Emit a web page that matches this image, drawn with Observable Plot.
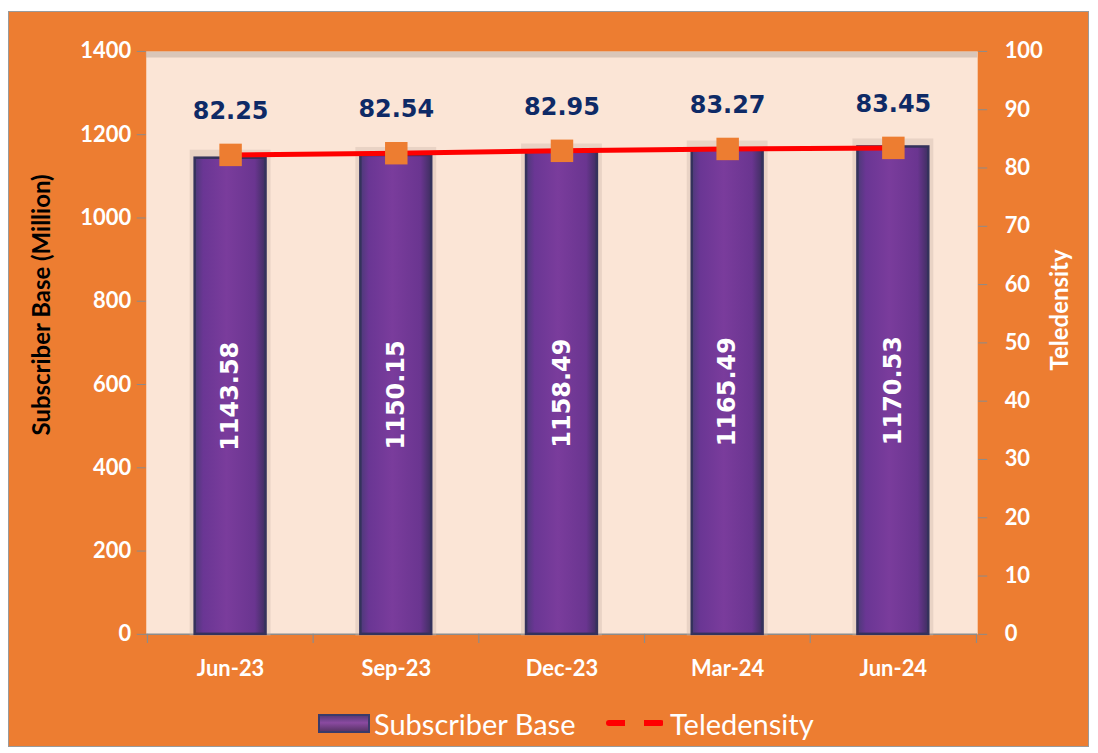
<!DOCTYPE html>
<html>
<head>
<meta charset="utf-8">
<script src="https://cdn.jsdelivr.net/npm/d3@7"></script>
<script src="https://cdn.jsdelivr.net/npm/@observablehq/plot@0.6"></script>
<style>
  body { margin: 0; background: #fff; width: 1098px; height: 753px; overflow: hidden; }
  #card { position: absolute; left: 8px; top: 11px; width: 1081px; height: 736px; background: #ED7D31; border: 1px solid #9a9a9a; box-sizing: border-box; }
  #chart { position: absolute; left: 0; top: 0; }
  #legend { position: absolute; left: 0; top: 693px; width: 100%; font-family: Lato, "Open Sans", sans-serif; font-size: 29px; color: #fff; }
  .item { position: absolute; top: 0; display: flex; align-items: center; height: 36px; }
  .sw { width: 52px; height: 19px; background: linear-gradient(#5a3a7a, #8a4aa0 45%, #5a3468); border: 2px solid #3a3a6a; box-sizing: border-box; margin-right: 4px; }
  .ln { width: 58px; height: 6px; margin-right: 6px; background: repeating-linear-gradient(90deg, #ff0000 0 19px, transparent 19px 38px); border-radius: 3px; }
</style>
</head>
<body>
<div id="card">
  <div id="chart"></div>
  <div id="legend">
    <div class="item" style="left:309px"><div class="sw"></div><span>Subscriber Base</span></div>
    <div class="item" style="left:597px"><div class="ln"></div><span>Teledensity</span></div>
  </div>
</div>
<script>
const categories = ["Jun-23", "Sep-23", "Dec-23", "Mar-24", "Jun-24"];
const subscriberBase = [1143.58, 1150.15, 1158.49, 1165.49, 1170.53];
const teledensity = [82.25, 82.54, 82.95, 83.27, 83.45];
const leftTicks = [0, 200, 400, 600, 800, 1000, 1200, 1400];
const rightTicks = [0, 10, 20, 30, 40, 50, 60, 70, 80, 90, 100];

const ratio = 1400 / 100; // right axis max 100 maps to left axis max 1400
const data = categories.map((c, i) => ({cat: c, sub: subscriberBase[i], tel: teledensity[i]}));

const W = 1081, H = 680;
const mL = 137, mR = 111, mT = 39, mB = 57;
const step = (W - mL - mR) / categories.length;

const chart = Plot.plot({
  width: W, height: H,
  marginLeft: mL, marginRight: mR, marginTop: mT, marginBottom: mB,
  style: {background: "transparent", fontFamily: "Lato, 'Open Sans', sans-serif", overflow: "visible"},
  x: {domain: categories, paddingInner: 0.575, paddingOuter: 0.2875, align: 0.5, label: null},
  y: {domain: [0, 1400], label: null},
  marks: [
    Plot.frame({fill: "#FBE5D6", stroke: null}),
    // inner shadow on left/top edges of plot area
    Plot.ruleX([0], {frameAnchor: "left", stroke: "#b8a89c", strokeWidth: 6, strokeOpacity: 0.5, dx: 3}),
    Plot.ruleY([1400], {stroke: "#b8a89c", strokeWidth: 6, strokeOpacity: 0.5, dy: 3}),
    Plot.axisY({anchor: "left", ticks: leftTicks, tickFormat: d => String(d), tickSize: 9, stroke: "#8c8c8c", fill: "#fff",
      fontSize: 22, fontWeight: "bold", tickPadding: 6, label: null}),
    Plot.axisY({anchor: "right", ticks: rightTicks.map(t => t * ratio), tickFormat: d => String(Math.round(d / ratio)),
      tickSize: 9, stroke: "#8c8c8c", fill: "#fff", fontSize: 22, fontWeight: "bold", tickPadding: 18, textAnchor: "start", label: null}),
    Plot.ruleX([0], {frameAnchor: "left", stroke: "#8c8c8c", strokeWidth: 1.5}),
    Plot.ruleX([0], {frameAnchor: "right", stroke: "#8c8c8c", strokeWidth: 1.5}),
    Plot.ruleY([0], {stroke: "#8c8c8c", strokeWidth: 1.5}),
    Plot.axisX({tickSize: 0, fill: "#fff", fontSize: 22, fontWeight: "bold", tickPadding: 26, label: null}),
    // category boundary ticks
    Plot.ruleX(categories, {x: d => d, dx: -step / 2, y1: 0, y2: -22, stroke: "#8c8c8c", strokeWidth: 1.2}),
    Plot.ruleX(categories.slice(-1), {x: d => d, dx: step / 2, y1: 0, y2: -22, stroke: "#8c8c8c", strokeWidth: 1.2}),
    // bar glow
    Plot.barY(data, {x: "cat", y: "sub", fill: "#c9b3a6", fillOpacity: 0.35, inset: -5, dy: -3}),
    Plot.barY(data, {x: "cat", y: "sub", fill: "url(#barGrad)", stroke: "#34325c", strokeWidth: 2.5}),
    Plot.text(data, {x: "cat", y: d => d.sub / 2, text: d => d.sub.toFixed(2), rotate: -90, fill: "#fff",
      fontSize: 24, fontWeight: "bold", fontFamily: "'DejaVu Sans', sans-serif"}),
    Plot.line(data, {x: "cat", y: d => d.tel * ratio, stroke: "#FF0000", strokeWidth: 5}),
    Plot.dot(data, {x: "cat", y: d => d.tel * ratio, symbol: "square", r: 12.7, fill: "#ED7D31", stroke: null}),
    Plot.text(data, {x: "cat", y: d => d.tel * ratio, dy: -44, text: d => d.tel.toFixed(2), fill: "#0E2A66",
      fontSize: 24, fontWeight: "bold", fontFamily: "'DejaVu Sans', sans-serif"}),
    // axis titles
    Plot.text(["Subscriber Base (Million)"], {frameAnchor: "left", textAnchor: "middle", dx: -104, dy: -38, rotate: -90, fill: "#000",
      fontSize: 24, fontWeight: "bold", text: d => d}),
    Plot.text(["Teledensity"], {frameAnchor: "right", textAnchor: "middle", dx: 83, dy: -33, rotate: -90, fill: "#fff",
      fontSize: 24, fontWeight: "bold", text: d => d})
  ]
});

// gradient definition for bars
const ns = "http://www.w3.org/2000/svg";
const defs = document.createElementNS(ns, "defs");
defs.innerHTML = `<linearGradient id="barGrad" x1="0" x2="1" y1="0" y2="0">
  <stop offset="0" stop-color="#4c3a78"/>
  <stop offset="0.12" stop-color="#6a3694"/>
  <stop offset="0.45" stop-color="#7a3c9c"/>
  <stop offset="0.85" stop-color="#6a3590"/>
  <stop offset="1" stop-color="#3e2f60"/>
</linearGradient>`;
chart.insertBefore(defs, chart.firstChild);
document.getElementById("chart").appendChild(chart);
</script>
</body>
</html>
